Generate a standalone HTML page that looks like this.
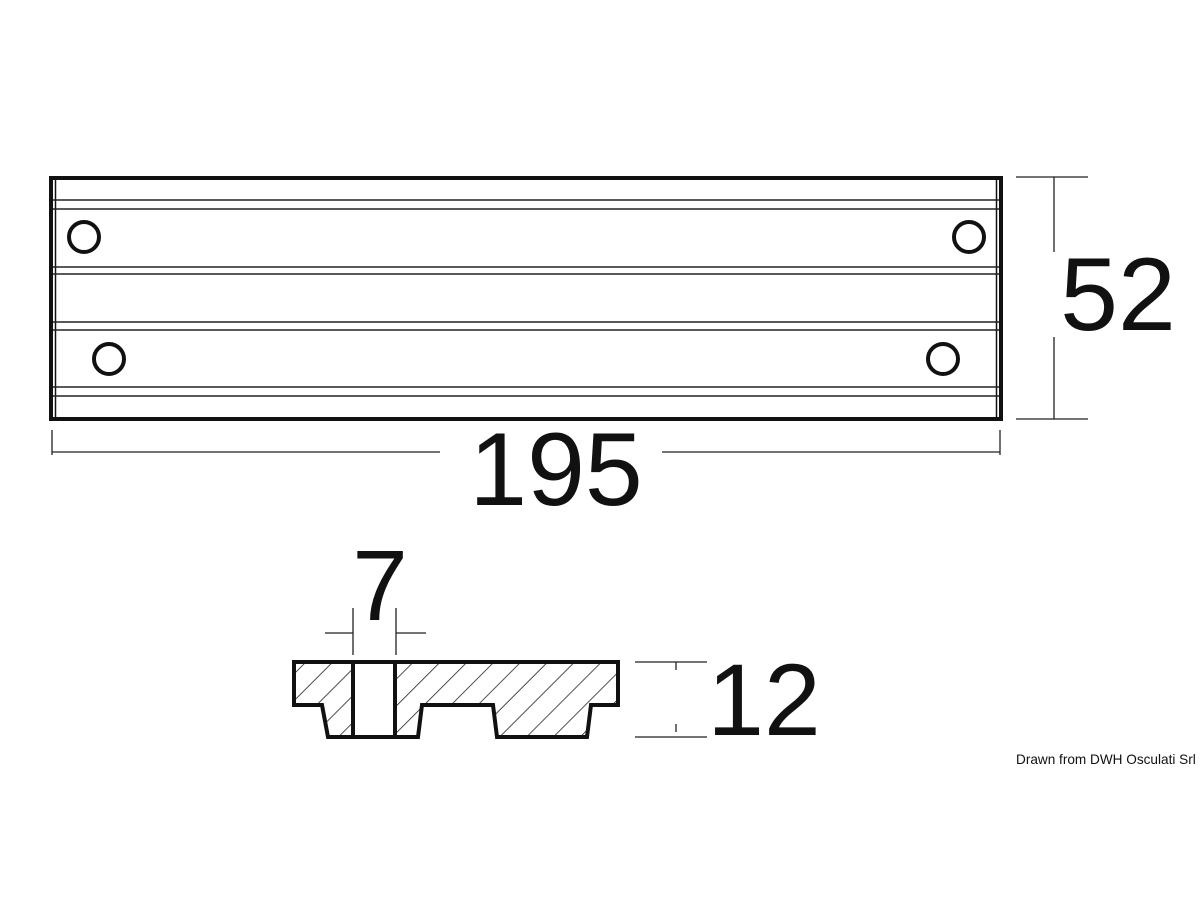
<!DOCTYPE html>
<html><head><style>
html,body{margin:0;padding:0;background:#fff;}
svg{display:block;}
text{font-family:"Liberation Sans",sans-serif;fill:#111;}
</style></head><body>
<svg width="1200" height="900" viewBox="0 0 1200 900" xmlns="http://www.w3.org/2000/svg">
<defs>
<pattern id="h" patternUnits="userSpaceOnUse" width="19" height="19" patternTransform="rotate(45)">
<line x1="0" y1="0" x2="0" y2="19" stroke="#222" stroke-width="1.6"/>
</pattern>
</defs>
<rect x="51" y="178" width="950" height="241" fill="none" stroke="#111" stroke-width="4"/>
<line x1="55.5" y1="180" x2="55.5" y2="417" stroke="#111" stroke-width="1.5"/>
<line x1="996.5" y1="180" x2="996.5" y2="417" stroke="#111" stroke-width="1.5"/>
<g stroke="#222" stroke-width="1.6">
<line x1="53" y1="200" x2="999" y2="200"/>
<line x1="53" y1="209" x2="999" y2="209"/>
<line x1="53" y1="267" x2="999" y2="267"/>
<line x1="53" y1="274" x2="999" y2="274"/>
<line x1="53" y1="322" x2="999" y2="322"/>
<line x1="53" y1="330" x2="999" y2="330"/>
<line x1="53" y1="387" x2="999" y2="387"/>
<line x1="53" y1="396" x2="999" y2="396"/>
</g>
<g fill="none" stroke="#111" stroke-width="4">
<circle cx="84" cy="237" r="15"/>
<circle cx="969" cy="237" r="15"/>
<circle cx="109" cy="359" r="15"/>
<circle cx="943" cy="359" r="15"/>
</g>
<g stroke="#222" stroke-width="1.3">
<line x1="1016" y1="177" x2="1088" y2="177"/>
<line x1="1016" y1="419" x2="1088" y2="419"/>
<line x1="1054" y1="177" x2="1054" y2="252"/>
<line x1="1054" y1="337" x2="1054" y2="419"/>
<line x1="52" y1="452" x2="440" y2="452"/>
<line x1="662" y1="452" x2="1000" y2="452"/>
<line x1="52" y1="430" x2="52" y2="455"/>
<line x1="1000" y1="430" x2="1000" y2="455"/>
</g>
<text x="1118" y="330" font-size="104" text-anchor="middle">52</text>
<text x="556" y="505" font-size="104" text-anchor="middle">195</text>
<path d="M294,662 L618,662 L618,705 L591,705 L587,737 L497,737 L493,705 L422,705 L418,737 L328,737 L322,705 L294,705 Z" fill="url(#h)" stroke="#111" stroke-width="4"/>
<rect x="354" y="664" width="40" height="71" fill="#fff" stroke="none"/>
<line x1="353" y1="664" x2="353" y2="735" stroke="#111" stroke-width="4"/>
<line x1="395" y1="664" x2="395" y2="735" stroke="#111" stroke-width="4"/>
<g stroke="#222" stroke-width="1.3">
<line x1="353" y1="608" x2="353" y2="655"/>
<line x1="396" y1="608" x2="396" y2="655"/>
<line x1="325" y1="633" x2="353" y2="633"/>
<line x1="396" y1="633" x2="426" y2="633"/>
<line x1="635" y1="662" x2="707" y2="662"/>
<line x1="635" y1="737" x2="707" y2="737"/>
<line x1="676" y1="662" x2="676" y2="670"/>
<line x1="676" y1="724" x2="676" y2="732"/>
</g>
<text x="380" y="620" font-size="100" text-anchor="middle">7</text>
<text x="764" y="735" font-size="102" text-anchor="middle">12</text>
<text x="1016" y="764" font-size="13.6">Drawn from DWH Osculati Srl</text>
</svg>
</body></html>
